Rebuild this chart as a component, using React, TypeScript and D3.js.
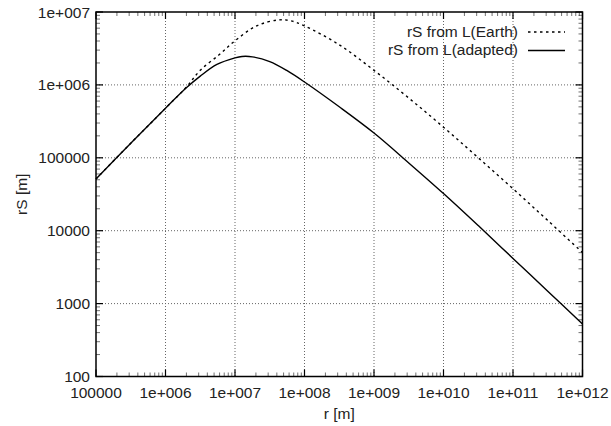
import React from "react";
import * as d3 from "d3";

const xTicks = [1e5, 1e6, 1e7, 1e8, 1e9, 1e10, 1e11, 1e12];
const xTickLabels = ["100000", "1e+006", "1e+007", "1e+008", "1e+009", "1e+010", "1e+011", "1e+012"];
const yTicks = [100, 1000, 1e4, 1e5, 1e6, 1e7];
const yTickLabels = ["100", "1000", "10000", "100000", "1e+006", "1e+007"];

// log10 of r and rS
const earthLogR = [5.0, 5.5, 6.0, 6.3, 6.5, 6.78, 7.0, 7.31, 7.62, 7.8, 8.0, 8.5, 9.0, 9.5, 10.0, 10.5, 11.0, 11.5, 12.0];
const earthLogRS = [4.71, 5.2, 5.68, 5.97, 6.2, 6.42, 6.605, 6.81, 6.89, 6.88, 6.81, 6.55, 6.2, 5.82, 5.42, 5.0, 4.575, 4.14, 3.7];
const adaptedLogR = [5.0, 5.5, 6.0, 6.3, 6.5, 6.74, 7.0, 7.1, 7.25, 7.5, 7.75, 8.0, 8.5, 9.0, 9.5, 10.0, 10.5, 11.0, 11.5, 12.0];
const adaptedLogRS = [4.71, 5.2, 5.68, 5.96, 6.12, 6.28, 6.37, 6.39, 6.385, 6.32, 6.195, 6.04, 5.7, 5.34, 4.93, 4.51, 4.07, 3.62, 3.17, 2.72];

const seriesNames = ["rS from L(Earth)", "rS from L(adapted)"];

const W = 611, H = 426;
const L = 96, R = 582.5, T = 12, B = 376.5;
const font = "'Liberation Sans', Arial, Helvetica, sans-serif";

export default function App() {
  const x = d3.scaleLog().domain([1e5, 1e12]).range([L, R]);
  const y = d3.scaleLog().domain([100, 1e7]).range([B, T]);
  const line = d3
    .line<[number, number]>()
    .x((d) => x(d[0]))
    .y((d) => y(d[1]))
    .curve(d3.curveCatmullRom.alpha(0.5));
  const earth: [number, number][] = earthLogR.map((v, i) => [Math.pow(10, v), Math.pow(10, earthLogRS[i])]);
  const adapted: [number, number][] = adaptedLogR.map((v, i) => [Math.pow(10, v), Math.pow(10, adaptedLogRS[i])]);

  const xMinor: number[] = [];
  for (let e = 5; e < 12; e++) for (let m = 2; m <= 9; m++) xMinor.push(m * Math.pow(10, e));
  const yMinor: number[] = [];
  for (let e = 2; e < 7; e++) for (let m = 2; m <= 9; m++) yMinor.push(m * Math.pow(10, e));

  const gridStyle = { stroke: "#666", strokeWidth: 1, strokeDasharray: "1,2" };

  return (
    <svg width={W} height={H} style={{ position: "absolute", left: 0, top: 0, background: "#fff" }} fontFamily={font}>
      <rect x={0} y={0} width={W} height={H} fill="#fff" />
      {/* grid */}
      {xTicks.slice(1, -1).map((t) => (
        <line key={"gx" + t} x1={x(t)} x2={x(t)} y1={T} y2={B} {...gridStyle} />
      ))}
      {yTicks.slice(1, -1).map((t) => (
        <line key={"gy" + t} x1={L} x2={R} y1={y(t)} y2={y(t)} {...gridStyle} />
      ))}
      {/* minor ticks */}
      {xMinor.map((t) => (
        <g key={"mx" + t} stroke="#333" strokeWidth={0.7}>
          <line x1={x(t)} x2={x(t)} y1={B} y2={B - 4} />
          <line x1={x(t)} x2={x(t)} y1={T} y2={T + 4} />
        </g>
      ))}
      {yMinor.map((t) => (
        <g key={"my" + t} stroke="#333" strokeWidth={0.7}>
          <line x1={L} x2={L + 4} y1={y(t)} y2={y(t)} />
          <line x1={R} x2={R - 4} y1={y(t)} y2={y(t)} />
        </g>
      ))}
      {/* major ticks */}
      {xTicks.map((t) => (
        <g key={"tx" + t} stroke="#000" strokeWidth={1.2}>
          <line x1={x(t)} x2={x(t)} y1={B} y2={B - 7} />
          <line x1={x(t)} x2={x(t)} y1={T} y2={T + 7} />
        </g>
      ))}
      {yTicks.map((t) => (
        <g key={"ty" + t} stroke="#000" strokeWidth={1.2}>
          <line x1={L} x2={L + 7} y1={y(t)} y2={y(t)} />
          <line x1={R} x2={R - 7} y1={y(t)} y2={y(t)} />
        </g>
      ))}
      {/* curves */}
      <path d={line(earth) || ""} fill="none" stroke="#000" strokeWidth={1.4} strokeDasharray="2.5,3.5" />
      <path d={line(adapted) || ""} fill="none" stroke="#000" strokeWidth={1.4} />
      {/* frame */}
      <rect x={L} y={T} width={R - L} height={B - T} fill="none" stroke="#000" strokeWidth={1.5} />
      {/* tick labels */}
      {xTicks.map((t, i) => (
        <text key={"lx" + t} x={x(t)} y={398} textAnchor="middle" fontSize={15.5} fill="#222">
          {xTickLabels[i]}
        </text>
      ))}
      {yTicks.map((t, i) => (
        <text key={"ly" + t} x={90} y={y(t) + 5.5} textAnchor="end" fontSize={15.5} fill="#222">
          {yTickLabels[i]}
        </text>
      ))}
      {/* axis titles */}
      <text x={(L + R) / 2} y={419} textAnchor="middle" fontSize={15.5} fill="#222">
        r [m]
      </text>
      <text transform={`translate(27,${(T + B) / 2}) rotate(-90)`} textAnchor="middle" fontSize={15.5} fill="#222">
        rS [m]
      </text>
      {/* legend */}
      <text x={518} y={37} textAnchor="end" fontSize={15.5} fill="#222">
        {seriesNames[0]}
      </text>
      <line x1={528} x2={565} y1={32} y2={32} stroke="#000" strokeWidth={1.4} strokeDasharray="2.5,3.5" />
      <text x={518} y={55} textAnchor="end" fontSize={15.5} fill="#222">
        {seriesNames[1]}
      </text>
      <line x1={528} x2={565} y1={50.5} y2={50.5} stroke="#000" strokeWidth={1.4} />
    </svg>
  );
}
